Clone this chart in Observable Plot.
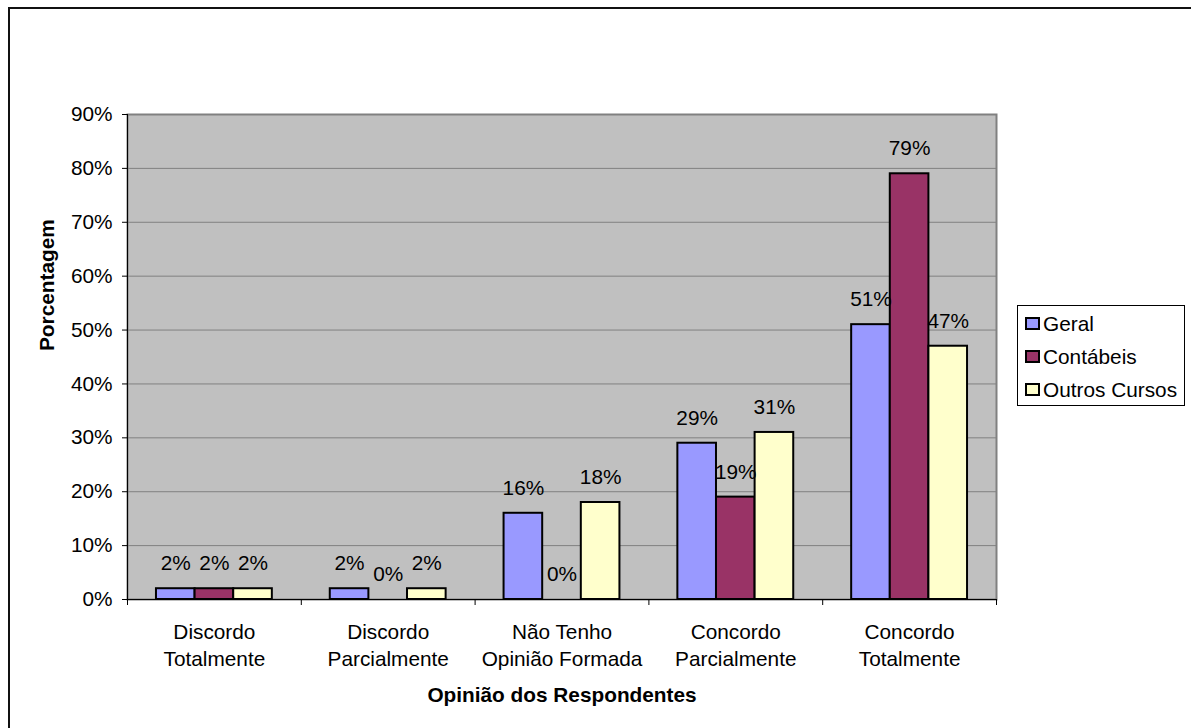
<!DOCTYPE html>
<html>
<head>
<meta charset="utf-8">
<script src="https://cdn.jsdelivr.net/npm/d3@7"></script>
<script src="https://cdn.jsdelivr.net/npm/@observablehq/plot@0.6"></script>
<style>
  html, body { margin: 0; padding: 0; background: #fff; overflow: hidden; }
  body { font-family: "Liberation Sans", Arial, sans-serif; }
  #wrap { position: relative; width: 1191px; height: 728px; overflow: hidden; }
  #border { position: absolute; left: 8px; top: 7px; width: 1300px; height: 800px;
            border-top: 2px solid #111; border-left: 2px solid #111; box-sizing: border-box; }
  #chart { position: absolute; left: 0; top: 0; }
  #legend { position: absolute; left: 1017px; top: 305px; width: 168px; height: 101px;
            border: 1px solid #000; background: #fff; box-sizing: border-box; padding-top: 1px; }
  .item { display: flex; align-items: center; height: 33px; font-size: 20.8px; color: #000; }
  .sw { width: 11px; height: 9px; border: 2px solid #000; margin-left: 7px; margin-right: 3px; }
</style>
</head>
<body>
<div id="wrap">
  <div id="border"></div>
  <div id="chart"></div>
  <div id="legend"></div>
</div>
<script>
// ---- data ----
const categories = ["Discordo\nTotalmente", "Discordo\nParcialmente", "Não Tenho\nOpinião Formada", "Concordo\nParcialmente", "Concordo\nTotalmente"];
const series = ["Geral", "Contábeis", "Outros Cursos"];
const geral = [2, 2, 16, 29, 51];
const contabeis = [2, 0, 0, 19, 79];
const outros = [2, 2, 18, 31, 47];
const colors = ["#9999FF", "#993366", "#FFFFCC"];
const yTicks = [0, 10, 20, 30, 40, 50, 60, 70, 80, 90];
const xTitle = "Opinião dos Respondentes";
const yTitle = "Porcentagem";

// ---- table ----
const values = [geral, contabeis, outros];
const nS = series.length;
const slots = nS + 1.5; // bar slots per category (gap = 1.5 bar widths)
const rows = [];
categories.forEach((c, i) => {
  series.forEach((s, j) => {
    rows.push({cat: i, s, j, value: values[j][i]});
  });
});
const left = d => d.cat + (0.75 + d.j) / slots;
const right = d => d.cat + (1.75 + d.j) / slots;
const mid = d => d.cat + (1.25 + d.j) / slots;
const catBounds = d3.range(categories.length + 1);
const catCenters = categories.map((c, i) => i + 0.5);

const font = '"Liberation Sans", Arial, sans-serif';
const fs = 20.8;

const chart = Plot.plot({
  width: 1191,
  height: 728,
  marginLeft: 127,
  marginRight: 195,
  marginTop: 114,
  marginBottom: 129,
  style: {background: "transparent", fontFamily: font, fontSize: fs + "px", color: "#000", overflow: "visible"},
  x: {type: "linear", domain: [0, categories.length], axis: null},
  y: {domain: [0, 90], axis: null},
  color: {domain: series, range: colors},
  marks: [
    Plot.frame({fill: "#C0C0C0"}),
    Plot.gridY(yTicks, {stroke: "#808080", strokeOpacity: 1, strokeWidth: 1}),
    Plot.frame({stroke: "#808080", strokeWidth: 2}),
    Plot.rectY(rows.filter(d => d.value > 0), {
      x1: left, x2: right, y1: 0, y2: "value",
      fill: "s", stroke: "#000", strokeWidth: 2
    }),
    Plot.text(rows, {x: mid, y: "value", text: d => d.value + "%", dy: -25, fontSize: fs, fill: "#000"}),
    Plot.ruleX([0], {stroke: "#000", strokeWidth: 1}),
    Plot.ruleY([0], {stroke: "#000", strokeWidth: 1}),
    Plot.axisY({ticks: yTicks, tickFormat: d => d + "%", tickSize: 5, tickPadding: 10, fontSize: fs, label: null, stroke: "#000"}),
    Plot.axisX({ticks: catBounds, tickFormat: () => "", tickSize: 6, label: null, stroke: "#000"}),
    Plot.axisX({ticks: catCenters, tickFormat: d => categories[Math.floor(d)], tickSize: 0, tickPadding: 20, lineHeight: 1.3, fontSize: fs, label: null}),
    Plot.text([xTitle], {frameAnchor: "bottom", dy: 102, fontSize: fs, fontWeight: "bold", fill: "#000"}),
    Plot.text([yTitle], {frameAnchor: "left", rotate: -90, dx: -80, dy: -6, fontSize: fs, fontWeight: "bold", fill: "#000"})
  ]
});
document.getElementById("chart").appendChild(chart);

// ---- legend ----
const lg = document.getElementById("legend");
series.forEach((s, j) => {
  const it = document.createElement("div");
  it.className = "item";
  const sw = document.createElement("div");
  sw.className = "sw";
  sw.style.background = colors[j];
  const tx = document.createElement("span");
  tx.textContent = s;
  it.appendChild(sw);
  it.appendChild(tx);
  lg.appendChild(it);
});
</script>
</body>
</html>
